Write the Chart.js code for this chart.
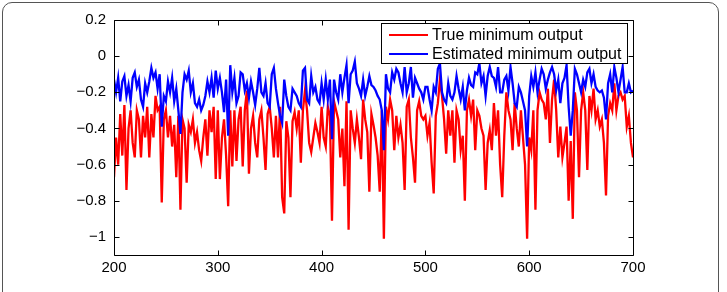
<!DOCTYPE html>
<html><head><meta charset="utf-8">
<script src="https://cdn.jsdelivr.net/npm/chart.js@4/dist/chart.umd.min.js"></script>
<style>
html,body{margin:0;padding:0;background:#fff;}
#wrap{position:relative;width:727px;height:292px;overflow:hidden;background:#fff;}
#frame{position:absolute;left:2px;top:2px;width:717px;height:320px;border:1px solid #555;border-radius:10px;box-sizing:border-box;}
canvas{position:absolute;left:0;top:0;}
</style></head>
<body><div id="wrap"><div id="frame"></div><canvas id="c" width="727" height="292"></canvas></div>
<script>
const seriesNames = ["True minimum output", "Estimated minimum output"];
const xStart = 200, xStep = 2;
const xTicks = [200, 300, 400, 500, 600, 700];
const yTicks = [0.2, 0, -0.2, -0.4, -0.6, -0.8, -1];

const trueMin = [
-0.67,-0.45,-0.6,-0.32,-0.55,-0.27,-0.74,-0.4,-0.3,-0.48,
-0.56,-0.3,-0.35,-0.56,-0.33,-0.45,-0.28,-0.56,-0.32,-0.45,
-0.22,-0.3,-0.28,-0.81,-0.35,-0.3,-0.45,-0.33,-0.5,-0.38,
-0.67,-0.33,-0.85,-0.35,-0.4,-0.7,-0.38,-0.42,-0.35,-0.48,
-0.42,-0.52,-0.58,-0.45,-0.35,-0.55,-0.3,-0.42,-0.28,-0.68,
-0.3,
-0.68,-0.45,-0.35,-0.55,-0.83,-0.3,-0.61,-0.3,-0.58,-0.35,
-0.28,-0.61,-0.3,-0.19,-0.65,-0.4,-0.33,-0.48,-0.56,-0.35,
-0.3,-0.45,-0.63,-0.32,-0.28,-0.4,-0.56,-0.33,-0.56,-0.28,
-0.78,-0.87,-0.36,-0.45,-0.78,-0.36,-0.31,-0.4,-0.3,-0.59,
-0.3,-0.19,-0.3,-0.48,-0.53,-0.45,-0.37,-0.42,-0.48,-0.28,
-0.45,-0.5,-0.28,-0.33,-0.91,-0.25,-0.3,-0.35,-0.56,-0.4,
-0.72,-0.25,-0.96,-0.3,-0.4,-0.48,-0.35,-0.45,-0.57,-0.24,
-0.35,-0.42,-0.75,-0.32,-0.38,-0.45,-0.55,-0.75,-0.3,-1.01,
-0.28,-0.35,-0.24,-0.3,-0.52,-0.33,-0.45,-0.38,-0.48,-0.74,
-0.28,-0.24,-0.45,-0.56,-0.7,-0.3,-0.25,-0.33,-0.35,-0.33,
-0.44,-0.37,-0.59,-0.76,-0.33,-0.26,-0.13,-0.22,-0.35,-0.54,
-0.3,-0.44,-0.3,-0.59,-0.3,-0.35,-0.52,-0.44,-0.8,-0.3,
-0.24,-0.33,-0.24,-0.52,-0.3,-0.33,-0.4,-0.44,-0.74,-0.48,
-0.41,-0.52,-0.26,-0.44,-0.3,-0.6,-0.78,-0.44,-0.2,-0.3,
-0.35,-0.52,-0.26,-0.4,-0.5,-0.3,-0.45,-0.6,-1.01,-0.45,
-0.52,-0.3,-0.85,-0.3,-0.2,-0.24,-0.26,-0.35,-0.18,-0.48,
-0.24,-0.13,-0.3,-0.56,-0.39,-0.56,-0.48,-0.39,-0.8,-0.47,
-0.9,-0.2,-0.3,-0.67,-0.3,-0.2,-0.3,-0.63,-0.22,-0.3,
-0.18,-0.35,-0.3,-0.39,-0.35,-0.48,-0.77,-0.33,-0.26,-0.3,
-0.15,-0.3,-0.22,-0.2,-0.24,-0.22,-0.39,-0.33,-0.48,-0.56
];

const estMin = [
-0.13,-0.2,-0.12,-0.25,-0.14,-0.11,-0.22,-0.16,-0.25,-0.12,
-0.09,-0.17,-0.13,-0.24,-0.28,-0.15,-0.2,-0.14,-0.065,-0.12,
-0.09,-0.18,-0.1,-0.39,-0.22,-0.25,-0.14,-0.2,-0.12,-0.25,
-0.18,-0.3,-0.43,-0.2,-0.1,-0.13,-0.08,-0.2,-0.15,-0.26,
-0.28,-0.24,-0.3,-0.27,-0.22,-0.14,-0.2,-0.12,-0.23,-0.08,
-0.18,
-0.12,-0.2,-0.31,-0.13,-0.44,-0.05,-0.2,-0.12,-0.26,-0.22,
-0.09,-0.1,-0.19,-0.15,-0.23,-0.14,-0.2,-0.27,-0.18,-0.065,
-0.2,-0.22,-0.15,-0.26,-0.28,-0.1,-0.065,-0.18,-0.26,-0.33,
-0.37,-0.13,-0.22,-0.28,-0.3,-0.18,-0.2,-0.22,-0.26,-0.28,
-0.08,-0.065,-0.24,-0.26,-0.11,-0.2,-0.17,-0.24,-0.26,-0.15,
-0.24,-0.13,-0.24,-0.13,-0.46,-0.13,-0.2,-0.24,-0.1,-0.2,
-0.12,-0.05,-0.26,-0.1,-0.08,-0.03,-0.15,-0.18,-0.22,-0.13,
-0.22,-0.17,-0.11,-0.16,-0.17,-0.19,-0.22,-0.24,-0.3,-0.52,
-0.1,-0.18,-0.2,-0.09,-0.13,-0.07,-0.09,-0.15,-0.2,-0.06,
-0.2,-0.15,-0.06,-0.23,-0.12,-0.15,-0.18,-0.2,-0.24,-0.17,
-0.17,-0.24,-0.3,-0.17,-0.2,-0.07,-0.04,-0.2,-0.24,-0.26,
-0.15,-0.22,-0.24,-0.2,-0.11,-0.18,-0.24,-0.17,-0.3,-0.19,
-0.12,-0.16,-0.17,-0.09,-0.1,-0.04,-0.15,-0.11,-0.22,-0.11,
-0.06,-0.11,-0.12,-0.17,-0.06,-0.2,-0.2,-0.13,-0.11,-0.19,
-0.06,-0.15,-0.26,-0.28,-0.17,-0.2,-0.25,-0.3,-0.5,-0.22,
-0.11,-0.17,-0.09,-0.2,-0.13,-0.07,-0.1,-0.18,-0.13,-0.09,
-0.06,-0.1,-0.19,-0.13,-0.26,-0.15,-0.12,-0.05,-0.28,-0.44,
-0.3,-0.07,-0.1,-0.15,-0.2,-0.13,-0.17,-0.09,-0.07,-0.15,
-0.1,-0.17,-0.19,-0.2,-0.19,-0.23,-0.35,-0.15,-0.1,-0.2,
-0.06,-0.12,-0.2,-0.13,-0.06,-0.2,-0.2,-0.15,-0.2,-0.19
];

const FONT = '"Liberation Sans", Arial, Helvetica, sans-serif';
const toPoints = arr => arr.map((v, i) => ({ x: xStart + i * xStep, y: v }));
const fmt = v => (v < 0 ? '\u2212' + String(Math.abs(v)) : String(v));

const boxPlugin = {
  id: 'matlabBox',
  afterDatasetsDraw(chart) {
    const ctx = chart.ctx, a = chart.chartArea;
    const xs = chart.scales.x, ys = chart.scales.y;
    const L = Math.round(a.left) + 0.5, R = Math.round(a.right) + 0.5;
    const T = Math.round(a.top) + 0.5, B = Math.round(a.bottom) + 0.5;
    ctx.save();
    ctx.strokeStyle = '#000';
    ctx.lineWidth = 1;
    ctx.beginPath();
    ctx.rect(L, T, R - L, B - T);
    const tl = 5;
    xs.ticks.forEach((t, i) => {
      const px = Math.round(xs.getPixelForTick(i)) + 0.5;
      ctx.moveTo(px, B); ctx.lineTo(px, B - tl);
      ctx.moveTo(px, T); ctx.lineTo(px, T + tl);
    });
    ys.ticks.forEach((t, i) => {
      const py = Math.round(ys.getPixelForTick(i)) + 0.5;
      ctx.moveTo(L, py); ctx.lineTo(L + tl, py);
      ctx.moveTo(R, py); ctx.lineTo(R - tl, py);
    });
    ctx.stroke();

    // legend
    const lx0 = 381.5, ly0 = 23.5, lx1 = 627.5, ly1 = 63.5;
    ctx.fillStyle = '#fff';
    ctx.fillRect(lx0, ly0, lx1 - lx0, ly1 - ly0);
    ctx.strokeRect(lx0, ly0, lx1 - lx0, ly1 - ly0);
    const rows = [35, 54];
    ctx.font = '16px ' + FONT;
    ctx.textBaseline = 'middle';
    ctx.textAlign = 'left';
    chart.data.datasets.forEach((ds, i) => {
      ctx.strokeStyle = ds.borderColor;
      ctx.lineWidth = 2;
      ctx.beginPath();
      ctx.moveTo(389, rows[i]); ctx.lineTo(428, rows[i]);
      ctx.stroke();
      ctx.fillStyle = '#000';
      ctx.fillText(ds.label, 432, rows[i] + 0.5);
    });
    ctx.restore();
  }
};

new Chart(document.getElementById('c'), {
  type: 'line',
  data: {
    datasets: [
      { label: seriesNames[0], data: toPoints(trueMin), borderColor: '#ff0000', borderWidth: 2.3, pointRadius: 0, tension: 0, order: 2, fill: false },
      { label: seriesNames[1], data: toPoints(estMin), borderColor: '#0000ff', borderWidth: 2.3, pointRadius: 0, tension: 0, order: 1, fill: false }
    ]
  },
  options: {
    responsive: false,
    animation: false,
    devicePixelRatio: 1,
    layout: { padding: { top: 20, right: 94, left: 0, bottom: 0 } },
    plugins: { legend: { display: false }, tooltip: { enabled: false } },
    scales: {
      x: {
        type: 'linear', min: 200, max: 700,
        afterBuildTicks: s => { s.ticks = xTicks.map(v => ({ value: v })); },
        afterFit: s => { s.height = 37; },
        grid: { display: false, drawTicks: false },
        border: { display: false },
        ticks: { color: '#000', font: { family: FONT, size: 15 }, padding: 4, maxRotation: 0, callback: v => fmt(v) }
      },
      y: {
        type: 'linear', min: -1.1, max: 0.2,
        afterBuildTicks: s => { s.ticks = yTicks.map(v => ({ value: v })); },
        afterFit: s => { s.width = 114; },
        grid: { display: false, drawTicks: false },
        border: { display: false },
        ticks: { color: '#000', font: { family: FONT, size: 15 }, padding: 8, callback: v => fmt(v) }
      }
    }
  },
  plugins: [boxPlugin]
});
</script>
</body></html>
